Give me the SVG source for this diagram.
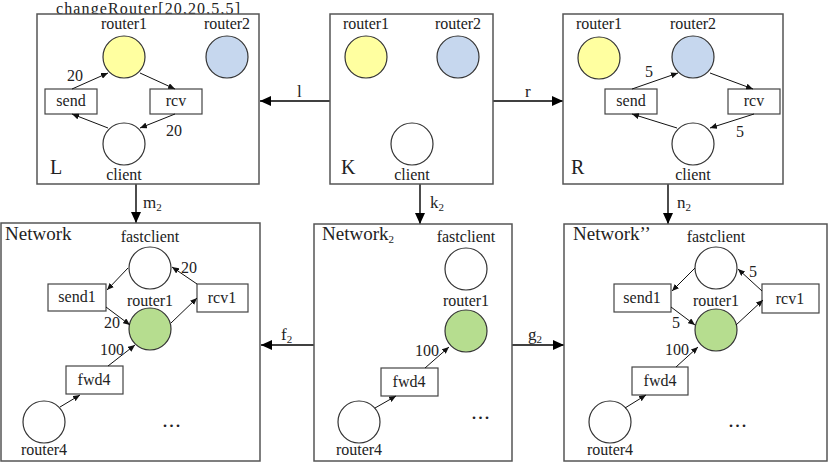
<svg xmlns="http://www.w3.org/2000/svg" width="831" height="462" viewBox="0 0 831 462">
<defs>
<marker id="sa" markerUnits="userSpaceOnUse" markerWidth="8" markerHeight="6" refX="7" refY="3" orient="auto"><path d="M0,0 L7,3 L0,6 Z" fill="#111"/></marker>
<marker id="ba" markerUnits="userSpaceOnUse" markerWidth="12" markerHeight="10" refX="11" refY="5" orient="auto"><path d="M0,0 L11,5 L0,10 Z" fill="#000"/></marker>
<style>
text{font-family:"Liberation Serif","DejaVu Serif","Noto Serif","Times New Roman",serif;fill:#222;text-anchor:middle}
.n{font-size:16px}
.big{font-size:20px;text-anchor:start}
.hd{font-size:19px;text-anchor:start}
.el{font-size:17px;text-anchor:start}
.sub{font-size:11px}
.dots{font-size:22px;letter-spacing:1px}
.box{fill:#fff;stroke:#555;stroke-width:1.5}
.c{stroke:#333;stroke-width:1.2;fill:#fff}
.y{fill:#ffffa0}
.b{fill:#c6d7ee}
.g{fill:#b6dd8f}
.r{fill:#fff;stroke:#444;stroke-width:1.2}
.e{stroke:#111;stroke-width:1;fill:none;marker-end:url(#sa)}
.m{stroke:#000;stroke-width:1.4;fill:none;marker-end:url(#ba)}
</style>
</defs>

<g id="connectors">
<line class="m" x1="330" y1="101" x2="260" y2="101"/>
<text class="el" x="297" y="97">l</text>
<line class="m" x1="493" y1="101" x2="563" y2="101"/>
<text class="el" x="525" y="97">r</text>
<line class="m" x1="136" y1="184" x2="136" y2="223"/>
<text class="el" x="143" y="208">m<tspan class="sub" dy="3">2</tspan></text>
<line class="m" x1="420" y1="184" x2="420" y2="224"/>
<text class="el" x="430" y="208">k<tspan class="sub" dy="3">2</tspan></text>
<line class="m" x1="668" y1="184" x2="668" y2="224"/>
<text class="el" x="677" y="208">n<tspan class="sub" dy="3">2</tspan></text>
<line class="m" x1="314" y1="345" x2="261" y2="345"/>
<text class="el" x="281" y="340">f<tspan class="sub" dy="3">2</tspan></text>
<line class="m" x1="512" y1="345" x2="564" y2="345"/>
<text class="el" x="528" y="340">g<tspan class="sub" dy="3">2</tspan></text>
</g>

<g id="L">
<text x="148" y="13.5" style="font-size:16px" textLength="184" lengthAdjust="spacing">changeRouter[20,20,5,5]</text>
<rect class="box" x="37" y="14" width="222" height="170"/>
<text class="big" x="50" y="174">L</text>
<text class="n" x="124" y="29">router1</text>
<circle class="c y" cx="124" cy="57" r="21"/>
<text class="n" x="227" y="29">router2</text>
<circle class="c b" cx="227" cy="57" r="21"/>
<rect class="r" x="45" y="89" width="52" height="25"/>
<text class="n" x="71" y="106">send</text>
<rect class="r" x="150" y="89" width="52" height="25"/>
<text class="n" x="176" y="106">rcv</text>
<circle class="c" cx="124" cy="144" r="21"/>
<text class="n" x="124" y="180">client</text>
<line class="e" x1="72" y1="89" x2="108" y2="73"/>
<line class="e" x1="140" y1="73" x2="175" y2="89"/>
<line class="e" x1="175" y1="114" x2="140" y2="128"/>
<line class="e" x1="108" y1="128" x2="72" y2="114"/>
<text class="n" x="75" y="81">20</text>
<text class="n" x="174" y="136">20</text>
</g>

<g id="K">
<rect class="box" x="330" y="14" width="163" height="170"/>
<text class="big" x="341" y="174">K</text>
<text class="n" x="366" y="29">router1</text>
<circle class="c y" cx="366" cy="57" r="21"/>
<text class="n" x="458" y="29">router2</text>
<circle class="c b" cx="458" cy="57" r="21"/>
<circle class="c" cx="412" cy="144" r="21"/>
<text class="n" x="412" y="180">client</text>
</g>

<g id="R">
<rect class="box" x="563" y="14" width="220" height="170"/>
<text class="big" x="571" y="174">R</text>
<text class="n" x="599" y="29">router1</text>
<circle class="c y" cx="599" cy="58" r="21"/>
<text class="n" x="693" y="29">router2</text>
<circle class="c b" cx="693" cy="57" r="21"/>
<rect class="r" x="605" y="89" width="52" height="25"/>
<text class="n" x="631" y="106">send</text>
<rect class="r" x="728" y="89" width="52" height="25"/>
<text class="n" x="754" y="106">rcv</text>
<circle class="c" cx="693" cy="144" r="21"/>
<text class="n" x="693" y="180">client</text>
<line class="e" x1="632" y1="89" x2="678" y2="73"/>
<line class="e" x1="710" y1="73" x2="753" y2="89"/>
<line class="e" x1="754" y1="114" x2="710" y2="128"/>
<line class="e" x1="677" y1="128" x2="632" y2="114"/>
<text class="n" x="649" y="77">5</text>
<text class="n" x="740" y="137">5</text>
</g>

<g id="Network">
<rect class="box" x="1" y="223" width="259" height="238"/>
<text class="hd" x="5" y="240">Network</text>
<text class="n" x="150" y="242">fastclient</text>
<circle class="c" cx="150" cy="268" r="21"/>
<rect class="r" x="48" y="284" width="58" height="27"/>
<text class="n" x="77" y="302">send1</text>
<rect class="r" x="197" y="284" width="51" height="28"/>
<text class="n" x="222" y="303">rcv1</text>
<text class="n" x="150" y="306">router1</text>
<circle class="c g" cx="150" cy="329" r="21"/>
<rect class="r" x="66" y="366" width="57" height="28"/>
<text class="n" x="94" y="385">fwd4</text>
<circle class="c" cx="44" cy="422" r="21"/>
<text class="n" x="44" y="455">router4</text>
<line class="e" x1="128" y1="268" x2="107" y2="290"/>
<line class="e" x1="106" y1="307" x2="130" y2="325"/>
<line class="e" x1="171" y1="323" x2="197" y2="298"/>
<line class="e" x1="197" y1="284" x2="172" y2="267"/>
<line class="e" x1="108" y1="366" x2="135" y2="345"/>
<line class="e" x1="60" y1="407" x2="80" y2="395"/>
<text class="n" x="189" y="273">20</text>
<text class="n" x="112" y="328">20</text>
<text class="n" x="112" y="355">100</text>
<text class="dots" x="172" y="427">...</text>
</g>

<g id="Network2">
<rect class="box" x="314" y="224" width="198" height="237"/>
<text class="hd" x="322" y="240">Network<tspan class="sub" dy="3">2</tspan></text>
<text class="n" x="466" y="242">fastclient</text>
<circle class="c" cx="466" cy="269" r="21"/>
<text class="n" x="466" y="306">router1</text>
<circle class="c g" cx="466" cy="331" r="21"/>
<rect class="r" x="381" y="368" width="57" height="28"/>
<text class="n" x="409" y="387">fwd4</text>
<circle class="c" cx="359" cy="422" r="21"/>
<text class="n" x="359" y="455">router4</text>
<line class="e" x1="425" y1="368" x2="449" y2="347"/>
<line class="e" x1="375" y1="408" x2="396" y2="396"/>
<text class="n" x="427" y="356">100</text>
<text class="dots" x="481" y="419">...</text>
</g>

<g id="NetworkPP">
<rect class="box" x="564" y="224" width="263" height="237"/>
<text class="hd" x="573" y="240">Network’’</text>
<text class="n" x="716" y="242">fastclient</text>
<circle class="c" cx="716" cy="268" r="21"/>
<rect class="r" x="614" y="284" width="57" height="28"/>
<text class="n" x="642" y="303">send1</text>
<rect class="r" x="762" y="284" width="57" height="29"/>
<text class="n" x="790" y="304">rcv1</text>
<text class="n" x="716" y="306">router1</text>
<circle class="c g" cx="716" cy="330" r="21"/>
<rect class="r" x="632" y="367" width="56" height="28"/>
<text class="n" x="660" y="386">fwd4</text>
<circle class="c" cx="610" cy="422" r="21"/>
<text class="n" x="610" y="455">router4</text>
<line class="e" x1="695" y1="268" x2="672" y2="291"/>
<line class="e" x1="671" y1="307" x2="695" y2="325"/>
<line class="e" x1="736" y1="325" x2="763" y2="300"/>
<line class="e" x1="762" y1="291" x2="738" y2="269"/>
<line class="e" x1="676" y1="367" x2="698" y2="347"/>
<line class="e" x1="625" y1="408" x2="646" y2="395"/>
<text class="n" x="753" y="277">5</text>
<text class="n" x="676" y="328">5</text>
<text class="n" x="677" y="355">100</text>
<text class="dots" x="738" y="427">...</text>
</g>
</svg>
